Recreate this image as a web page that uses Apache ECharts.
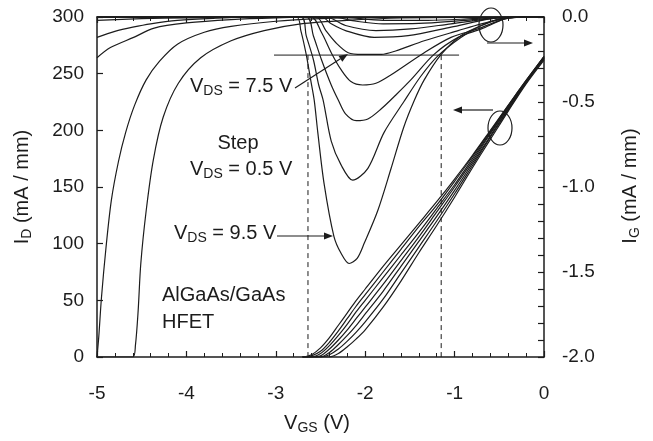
<!DOCTYPE html>
<html><head><meta charset="utf-8">
<script src="https://cdn.jsdelivr.net/npm/echarts@6/dist/echarts.min.js"></script>
<style>html,body{margin:0;padding:0;background:#fff}#c{width:653px;height:441px}</style>
</head><body><div id="c"></div>
<script>
// ---------- DATA ----------
// Drain current I_D (mA/mm, left axis) vs V_GS (V)
const idX = [-2.7,-2.6,-2.5,-2.4,-2.3,-2.2,-2.1,-2.0,-1.8,-1.6,-1.4,-1.2,-1.0,-0.8,-0.6,-0.4,-0.2,0];
const id1 = [0,2,8,17,28,39,50,60,80,99,118,137,157,178,200,222,244,265];
const id2 = [0,1,5,13,23,34,45,55,75,95,115,134,155,177,199,222,244,265];
const id3 = [0,0,3,10,19,29,40,50,70,90,110,131,152,175,198,221,243,265];
const id4 = [0,0,1,7,15,24,34,44,64,85,106,128,150,173,197,220,243,264];
const id5 = [0,0,0,4,11,19,28,38,58,80,102,124,147,171,195,219,242,264];
const id6 = [0,0,0,2,7,14,22,31,51,74,97,120,144,169,194,218,242,263];
const id7 = [0,0,0,0,3,9,16,24,44,67,92,116,141,167,192,217,241,262];

// Gate current I_G (mA/mm, right axis) vs V_GS (V)
const gA_x = [-5.0,-4.98,-4.95,-4.90,-4.84,-4.76,-4.68,-4.58,-4.45,-4.30,-4.10,-3.80,-3.50,-3.00,-2.50,-2.00,0];
const gA_y = [-2.0,-1.88,-1.65,-1.36,-1.08,-0.85,-0.68,-0.52,-0.37,-0.26,-0.16,-0.09,-0.055,-0.025,-0.01,-0.003,0];
const gB_x = [-5.0,-4.60,-4.57,-4.54,-4.51,-4.45,-4.37,-4.26,-4.09,-3.84,-3.50,-3.13,-2.72,-2.16,-1.60,0];
const gB_y = [-2.0,-2.0,-1.93,-1.73,-1.45,-1.14,-0.84,-0.59,-0.39,-0.24,-0.14,-0.08,-0.04,-0.018,-0.006,0];
const gC_x = [-5.0,-4.8,-4.6,-4.4,-4.1,-3.7,-3.2,0];
const gC_y = [-0.12,-0.085,-0.06,-0.04,-0.02,-0.008,0,0];
const gD_x = [-5.0,-4.85,-4.59,-4.36,-4.00,-3.50,-3.00,-2.50,0];
const gD_y = [-0.24,-0.18,-0.12,-0.065,-0.035,-0.015,-0.005,0,0];
const gE_x = [-5.0,-4.5,-4.0,-3.0,0];
const gE_y = [-0.02,-0.01,-0.005,0,0];

const g95_x = [-5,-2.77,-2.72,-2.66,-2.61,-2.57,-2.53,-2.46,-2.35,-2.27,-2.18,-2.09,-2.01,-1.86,-1.71,-1.57,-1.45,-1.34,-1.15,-0.93,-0.70,-0.48,-0.26,0];
const g95_y = [0,0,-0.08,-0.22,-0.37,-0.49,-0.68,-0.98,-1.29,-1.39,-1.45,-1.42,-1.33,-1.14,-0.89,-0.65,-0.49,-0.37,-0.22,-0.11,-0.05,-0.01,0,0];
const g90_x = [-5,-2.72,-2.66,-2.58,-2.52,-2.47,-2.38,-2.27,-2.14,-1.97,-1.79,-1.57,-1.38,-1.19,-0.93,-0.70,-0.48,-0.26,0];
const g90_y = [0,0,-0.11,-0.25,-0.40,-0.49,-0.73,-0.87,-0.96,-0.89,-0.68,-0.50,-0.35,-0.23,-0.12,-0.05,-0.01,0,0];
const g85_x = [-5,-2.66,-2.58,-2.49,-2.38,-2.30,-2.22,-2.10,-1.97,-1.82,-1.66,-1.49,-1.23,-0.96,-0.70,-0.43,-0.20,0];
const g85_y = [0,0,-0.11,-0.25,-0.40,-0.49,-0.57,-0.61,-0.60,-0.54,-0.46,-0.37,-0.22,-0.12,-0.07,-0.01,0,0];
const g80_x = [-5,-2.61,-2.49,-2.38,-2.27,-2.16,-2.03,-1.88,-1.71,-1.34,-1.04,-0.74,-0.43,-0.20,0];
const g80_y = [0,0,-0.09,-0.21,-0.31,-0.38,-0.40,-0.39,-0.34,-0.21,-0.12,-0.07,-0.01,0,0];
const g75_x = [-5,-2.55,-2.44,-2.33,-2.19,-2.03,-1.82,-1.66,-1.34,-0.96,-0.70,-0.43,-0.20,0];
const g75_y = [0,0,-0.08,-0.15,-0.21,-0.22,-0.22,-0.20,-0.14,-0.08,-0.04,-0.01,0,0];
const g70_x = [-5,-2.49,-2.38,-2.22,-1.90,-1.52,-1.04,-0.59,-0.26,0];
const g70_y = [0,0,-0.04,-0.08,-0.12,-0.11,-0.06,-0.01,0,0];
const g65_x = [-5,-2.44,-2.22,-1.88,-1.49,-1.04,-0.59,-0.30,0];
const g65_y = [0,0,-0.05,-0.08,-0.07,-0.04,-0.01,0,0];
const g60_x = [-5,-2.38,-2.10,-1.80,-1.40,-0.90,-0.50,-0.20,0];
const g60_y = [0,0,-0.025,-0.04,-0.038,-0.02,-0.004,0,0];
const g55_x = [-5,-2.30,-1.80,-1.30,-0.80,-0.40,0];
const g55_y = [0,0,-0.02,-0.02,-0.01,0,0];

// Criterion line (I_G level) and dashed V_GS markers
const critX = [-3.02, -0.95];
const critIG = -0.224;
const dashVgs = [-2.64, -1.15];

// Axis ticks
const xMin = -5, xMax = 0, xStep = 1;
const idMin = 0, idMax = 300, idStep = 50;
const igMin = -2, igMax = 0, igStep = 0.5;

// ---------- CHART ----------
const FONT = '"Liberation Sans", Arial, Helvetica, sans-serif';
const INK = '#1c1c1c';
const mk = (xs, ys) => xs.map((x, i) => [x, ys[i]]);

const series = [];
function curve(data, yIdx, extra) {
  series.push(Object.assign({
    type: 'line', xAxisIndex: 0, yAxisIndex: yIdx, data: data,
    showSymbol: false, smooth: 0.3, silent: true,
    lineStyle: { color: INK, width: 1.2 }, z: 3
  }, extra || {}));
}
[id1, id2, id3, id4, id5, id6, id7].forEach(v => curve(mk(idX, v), 0));
[[gA_x,gA_y],[gB_x,gB_y],[gC_x,gC_y],[gD_x,gD_y],[gE_x,gE_y],
 [g95_x,g95_y],[g90_x,g90_y],[g85_x,g85_y],[g80_x,g80_y],[g75_x,g75_y],
 [g70_x,g70_y],[g65_x,g65_y],[g60_x,g60_y],[g55_x,g55_y]].forEach(p => curve(mk(p[0], p[1]), 1));
// criterion horizontal line
curve(critX.map(x => [x, critIG]), 1, { smooth: false, lineStyle: { color: INK, width: 1 } });
// dashed verticals
dashVgs.forEach(x => curve([[x, critIG], [x, igMin]], 1, { smooth: false, lineStyle: { color: INK, width: 1, type: [5, 4] } }));

const axLine = { show: true, onZero: false, lineStyle: { color: INK, width: 1.5 } };
const tick = { show: true, inside: true, length: 6, lineStyle: { color: INK, width: 1.2 } };
const lbl = { fontSize: 19, color: INK, fontFamily: FONT };

function arrow(x1, y1, x2, y2) {
  const a = Math.atan2(y2 - y1, x2 - x1), L = 9, W = 3.5;
  const bx = x2 - L * Math.cos(a), by = y2 - L * Math.sin(a);
  const px = -Math.sin(a) * W, py = Math.cos(a) * W;
  return [
    { type: 'line', shape: { x1: x1, y1: y1, x2: bx, y2: by }, style: { stroke: INK, lineWidth: 1.2 }, z: 10 },
    { type: 'polygon', shape: { points: [[x2, y2], [bx + px, by + py], [bx - px, by - py]] }, style: { fill: INK }, z: 10 }
  ];
}
const rich = {
  b: { fontSize: 20, fontFamily: FONT, lineHeight: 24, fill: INK },
  s: { fontSize: 14, fontFamily: FONT, lineHeight: 14, verticalAlign: 'bottom', fill: INK }
};
function txt(x, y, text, align, rot) {
  return { type: 'text', x: x, y: y, rotation: rot || 0, z: 10,
    style: { text: text, align: align || 'left', verticalAlign: 'middle', fill: INK, rich: rich } };
}

const graphic = [
  txt(22, 187, '{b|I}{s|D}{b| (mA / mm)}', 'center', Math.PI / 2),
  txt(630, 186, '{b|I}{s|G}{b| (mA / mm)}', 'center', Math.PI / 2),
  txt(317, 423, '{b|V}{s|GS}{b| (V)}', 'center'),
  txt(190, 86, '{b|V}{s|DS}{b| = 7.5 V}'),
  txt(238, 143, '{b|Step}', 'center'),
  txt(190, 169, '{b|V}{s|DS}{b| = 0.5 V}'),
  txt(174, 233, '{b|V}{s|DS}{b| = 9.5 V}'),
  txt(162, 295, '{b|AlGaAs/GaAs}'),
  txt(162, 322, '{b|HFET}'),
  { type: 'ellipse', shape: { cx: 491, cy: 25, rx: 12, ry: 17 }, style: { fill: 'transparent', stroke: INK, lineWidth: 1.2 }, z: 10 },
  { type: 'ellipse', shape: { cx: 500, cy: 128, rx: 12, ry: 17 }, style: { fill: 'transparent', stroke: INK, lineWidth: 1.2 }, z: 10 }
].concat(arrow(295, 88, 348, 54), arrow(277, 236, 333, 236), arrow(487, 43, 533, 43), arrow(493, 110, 453, 110));

const option = {
  animation: false,
  backgroundColor: '#fff',
  grid: { left: 97, right: 109, top: 17, bottom: 84, containLabel: false },
  xAxis: [
    { type: 'value', position: 'bottom', min: xMin, max: xMax, interval: xStep,
      axisLine: axLine, axisTick: tick,
      minorTick: { show: true, splitNumber: 5, length: 4, lineStyle: { color: INK, width: 1 } },
      axisLabel: Object.assign({ margin: 27 }, lbl), splitLine: { show: false }, minorSplitLine: { show: false } },
    { type: 'value', position: 'top', min: xMin, max: xMax, interval: xStep,
      axisLine: axLine, axisTick: tick,
      minorTick: { show: true, splitNumber: 5, length: 4, lineStyle: { color: INK, width: 1 } },
      axisLabel: { show: false }, splitLine: { show: false }, minorSplitLine: { show: false } }
  ],
  yAxis: [
    { type: 'value', position: 'left', min: idMin, max: idMax, interval: idStep,
      axisLine: axLine, axisTick: tick,
      axisLabel: Object.assign({ margin: 13 }, lbl), splitLine: { show: false } },
    { type: 'value', position: 'right', min: igMin, max: igMax, interval: igStep,
      axisLine: axLine, axisTick: tick,
      minorTick: { show: true, splitNumber: 5, length: 6, lineStyle: { color: INK, width: 1.2 } },
      axisLabel: Object.assign({ margin: 18, formatter: v => v.toFixed(1) }, lbl),
      splitLine: { show: false }, minorSplitLine: { show: false } }
  ],
  series: series,
  graphic: graphic
};
const chart = echarts.init(document.getElementById('c'), null, { renderer: 'canvas' });
chart.setOption(option);
</script></body></html>
